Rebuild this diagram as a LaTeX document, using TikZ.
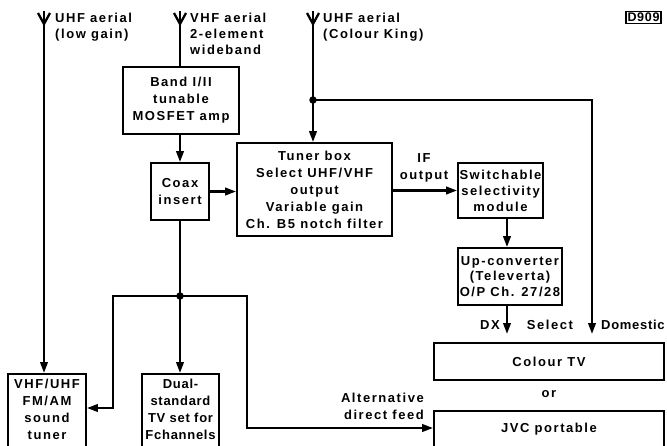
\documentclass[tikz,border=0pt]{standalone}
\usepackage{fontspec}
\setmainfont{Liberation Sans}[LetterSpace=12]
\newfontfamily\tightfont{Liberation Sans}[LetterSpace=5.5]
\usetikzlibrary{arrows.meta}
\begin{document}
\begin{tikzpicture}[x=1pt,y=-1pt,
  every node/.style={font=\bfseries\fontsize{13}{17}\selectfont},
  box/.style={draw, line width=1.8pt, align=center, inner sep=0pt},
  topbox/.style={draw, line width=1.8pt, inner xsep=0pt, inner ysep=3pt, anchor=north},
  conn/.style={line width=2.3pt},
  arr/.style={conn, -{Triangle[length=11pt,width=7.5pt]}},
  lbl/.style={inner sep=0pt, anchor=base west,
    font=\bfseries\fontsize{13}{16.3}\selectfont},
  dot/.style={circle, fill, inner sep=0pt, minimum size=7.5pt}]
\fill[white] (0,0) rectangle (667,445);
\useasboundingbox (0,0) rectangle (667,445);
\clip (0,0) rectangle (667,445);

% boxes
\node[box, minimum width=116pt, minimum height=67pt] (band) at (181,100.5) {Band I/II\\tunable\\MOSFET amp};
\node[box, minimum width=58pt, minimum height=57pt] (coax) at (180,191.5) {Coax\\insert};
\node[box, minimum width=155pt, minimum height=93pt] (tuner) at (314.5,189.5) {Tuner box\\Select UHF/VHF\\output\\Variable gain\\Ch. B5 notch filter};
\node[box, minimum width=85pt, minimum height=55pt, font=\bfseries\fontsize{13}{16}\selectfont] (sw) at (500.5,190.5) {Switchable\\selectivity\\module};
\node[box, minimum width=104pt, minimum height=57pt, font=\bfseries\fontsize{13}{15.5}\selectfont] (up) at (510,276.5) {Up-converter\\(Televerta)\\O/P Ch. 27/28};
\node[box, minimum width=230pt, minimum height=37pt] (ctv) at (549,361.5) {Colour TV};
\node[box, anchor=north, minimum width=230pt, inner ysep=8pt, text height=14pt, text depth=30pt] (jvc) at (549,410) {JVC portable};
\node[topbox, minimum width=78pt] (vu) at (47,373) {\begin{tabular}[t]{@{}c@{}}VHF/UHF\\FM/AM\\sound\\tuner\end{tabular}};
\node[topbox, minimum width=77pt, font=\tightfont\bfseries\fontsize{13}{17}\selectfont] (dual) at (180.5,373) {\begin{tabular}[t]{@{}c@{}}Dual-\\standard\\TV set for\\Fchannels\end{tabular}};

% aerials
\coordinate (a1) at (44,11);
\coordinate (a2) at (180,11);
\coordinate (a3) at (313,11);
\draw[conn] (a1) ++(-6,2) -- ++(6,11) -- ++(6,-11);
\draw[conn] (a2) ++(-6,2) -- ++(6,11) -- ++(6,-11);
\draw[conn] (a3) ++(-6,2) -- ++(6,11) -- ++(6,-11);
\node[lbl] (t1) at (55,22) {\begin{tabular}[t]{@{}l@{}}UHF aerial\\(low gain)\end{tabular}};
\node[lbl] (t2) at (190,22) {\begin{tabular}[t]{@{}l@{}}VHF aerial\\2-element\\wideband\end{tabular}};
\node[lbl] (t3) at (323,22) {\begin{tabular}[t]{@{}l@{}}UHF aerial\\(Colour King)\end{tabular}};
\node[draw, line width=1.1pt, inner xsep=1.5pt, inner ysep=1.8pt, font=\tightfont\bfseries\fontsize{12.5}{12}\selectfont] (d909) at (643.5,17.5) {D909};

% connectors
\draw[arr] (a1) -- (a1 |- vu.north);
\draw[conn] (a2) -- (a2 |- band.north);
\draw[arr] (a2 |- band.south) -- (a2 |- coax.north);
\draw[arr] (coax.east) -- (coax.east -| tuner.west);
\draw[arr] (a3) -- (a3 |- tuner.north);
\node[dot] (j1) at (313,100) {};
\coordinate (dom) at (592,334);
\draw[arr] (j1.center) -| (dom);
\draw[arr] (sw.west -| tuner.east) -- (sw.west);
\coordinate (dx) at (507,334);
\draw[arr] (dx |- sw.south) -- (dx |- up.north);
\draw[arr] (dx |- up.south) -- (dx);

\node[dot] (j2) at (180,296) {};
\draw[conn] (coax.south) -- (j2.center);
\draw[arr] (j2.center) -- (j2 |- dual.north);
\coordinate (l1) at (113,408);
\draw[arr] (j2.center) -| (l1) -- (l1 -| vu.east);
\coordinate (r1) at (247,428);
\draw[arr] (j2.center) -| (r1) -- (r1 -| jvc.west);

% labels
\node[align=center] (ifl) at (424,168) {IF\\output};
\node (dxl) at (490,325) {DX};
\node (sel) at (550,325) {Select};
\node[anchor=west, inner sep=0pt, font=\tightfont\bfseries\fontsize{13}{17}\selectfont] (doml) at (601,325) {Domestic};
\node (orl) at (549,394) {or};
\node[align=right, anchor=east, inner sep=0pt] (alt) at (424,406) {Alternative\\direct feed};
\end{tikzpicture}
\end{document}
